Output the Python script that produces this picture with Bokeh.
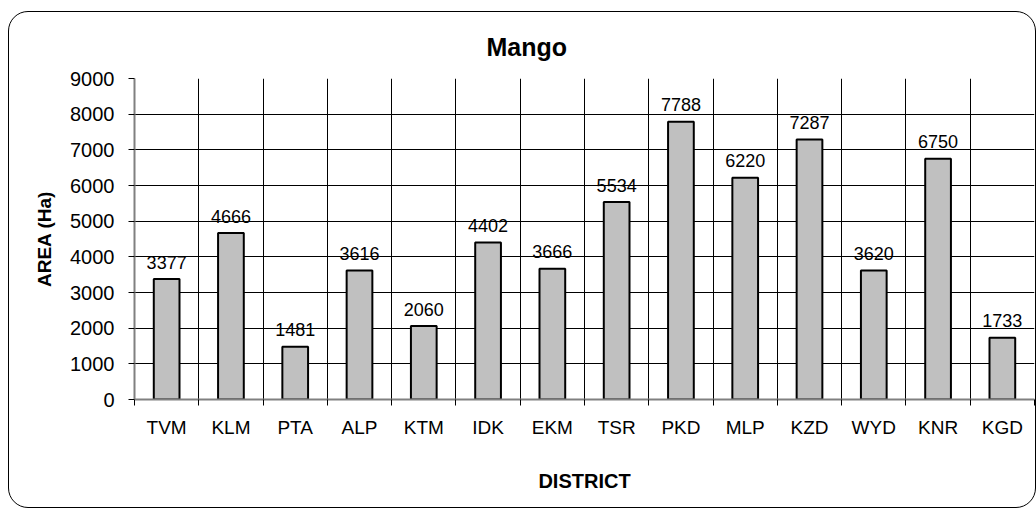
from bokeh.plotting import figure
from bokeh.models import ColumnDataSource, Range1d, FixedTicker
from bokeh.core.properties import value
from bokeh.embed import file_html
from bokeh.resources import INLINE

districts = ["TVM", "KLM", "PTA", "ALP", "KTM", "IDK", "EKM", "TSR", "PKD", "MLP", "KZD", "WYD", "KNR", "KGD"]
area = [3377, 4666, 1481, 3616, 2060, 4402, 3666, 5534, 7788, 6220, 7287, 3620, 6750, 1733]
y_ticks = [0, 1000, 2000, 3000, 4000, 5000, 6000, 7000, 8000, 9000]

n = len(districts)
xc = [i + 0.5 for i in range(n)]
src = ColumnDataSource(dict(x=xc, area=area, lab=[str(v) for v in area], name=districts))

FONT = "Liberation Sans"

p = figure(width=1028, height=497, output_backend="svg", toolbar_location=None,
           x_range=Range1d(0, n), y_range=Range1d(0, 9000),
           min_border_left=125, min_border_right=3, min_border_top=66, min_border_bottom=110)
p.styles = {"border": "1.3px solid #000", "border-radius": "20px", "box-sizing": "border-box",
            "overflow": "hidden", "margin-left": "8px", "margin-top": "11px"}
p.border_fill_color = None
p.outline_line_color = None
p.background_fill_color = "white"

p.vbar(x="x", top="area", width=0.4, bottom=0, source=src,
       fill_color="#C0C0C0", line_color="black", line_width=2)
p.text(x="x", y="area", text="lab", source=src, text_align="center", text_baseline="alphabetic",
       y_offset=-17, text_font=value(FONT), text_font_size="18px", text_color="black")

# title
p.title.text = "Mango"
p.title.text_font = FONT
p.title.text_font_size = "25px"
p.title.text_font_style = "bold"
p.title.text_color = "black"
p.title.align = "left"
p.title.offset = 352
p.title.standoff = 35

# x axis
xa = p.xaxis[0]
xa.ticker = FixedTicker(ticks=xc, minor_ticks=list(range(n + 1)))
xa.major_label_overrides = {x: d for x, d in zip(xc, districts)}
xa.major_tick_line_color = None
xa.minor_tick_line_color = "black"
xa.minor_tick_out = 6
xa.minor_tick_in = 0
xa.axis_line_color = "#808080"
xa.axis_line_width = 2
xa.major_label_text_font = FONT
xa.major_label_text_font_size = "19px"
xa.major_label_text_color = "black"
xa.major_label_standoff = 11
xa.axis_label = "DISTRICT"
xa.axis_label_text_font = FONT
xa.axis_label_text_font_size = "20px"
xa.axis_label_text_font_style = "bold"
xa.axis_label_text_color = "black"
xa.axis_label_standoff = 29

# y axis
ya = p.yaxis[0]
ya.ticker = FixedTicker(ticks=y_ticks)
ya.major_tick_out = 6
ya.major_tick_in = 0
ya.minor_tick_line_color = None
ya.major_tick_line_color = "black"
ya.axis_line_color = "#808080"
ya.axis_line_width = 2
ya.major_label_text_font = FONT
ya.major_label_text_font_size = "20px"
ya.major_label_text_color = "black"
ya.major_label_standoff = 14
ya.axis_label = "AREA (Ha)"
ya.axis_label_text_font = FONT
ya.axis_label_text_font_size = "19px"
ya.axis_label_text_font_style = "bold"
ya.axis_label_text_color = "black"
ya.axis_label_standoff = 12

# grids
p.xgrid.grid_line_color = None
p.xgrid.minor_grid_line_color = "black"
p.xgrid.minor_grid_line_width = 1
p.ygrid.grid_line_color = "black"
p.ygrid.grid_line_width = 1
p.grid.level = "underlay"

open("out.html", "w").write(file_html(p, INLINE))
